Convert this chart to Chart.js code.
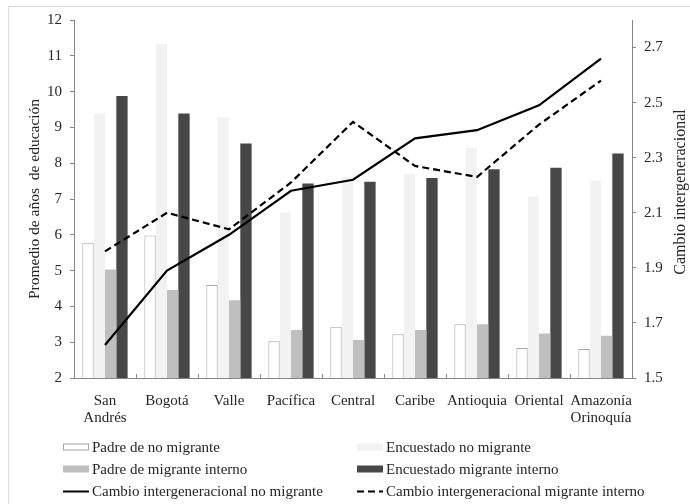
<!DOCTYPE html>
<html>
<head>
<meta charset="utf-8">
<script src="https://cdn.jsdelivr.net/npm/chart.js@4.4.0/dist/chart.umd.min.js"></script>
<style>
  html, body { margin: 0; padding: 0; background: #fff; overflow: hidden; }
  #frame { position: absolute; left: 8px; top: 6px; width: 720px; height: 540px; border: 1px solid #d9d9d9; }
  #wrap { position: absolute; left: 0; top: 0; width: 690px; height: 504px; }
</style>
</head>
<body>
<div id="frame"></div>
<div id="wrap"><canvas id="canvas" width="690" height="504"></canvas></div>
<script>
const categories = [['San', 'Andrés'], 'Bogotá', 'Valle', 'Pacífica', 'Central', 'Caribe', 'Antioquia', 'Oriental', ['Amazonía', 'Orinoquía']];

const padreNoMigrante      = [5.78, 5.98, 4.60, 3.03, 3.43, 3.22, 3.50, 2.84, 2.81];
const encuestadoNoMigrante = [9.39, 11.33, 9.29, 6.62, 7.62, 7.69, 8.43, 7.07, 7.52];
const padreMigrante        = [5.03, 4.46, 4.17, 3.34, 3.06, 3.34, 3.50, 3.24, 3.18];
const encuestadoMigrante   = [9.88, 9.39, 8.55, 7.43, 7.48, 7.59, 7.83, 7.87, 8.27];

const cambioNoMigrante = [1.62, 1.89, 2.02, 2.18, 2.22, 2.37, 2.40, 2.49, 2.66];
const cambioMigrante   = [1.96, 2.10, 2.04, 2.21, 2.43, 2.27, 2.23, 2.42, 2.58];

const leftTicks = [2, 3, 4, 5, 6, 7, 8, 9, 10, 11, 12];
const rightTicks = [1.5, 1.7, 1.9, 2.1, 2.3, 2.5, 2.7];

const FONT = "'Liberation Serif', 'Times New Roman', serif";
const AXIS = '#868686';
const TEXT = '#262626';

let ctx = document.getElementById('canvas').getContext('2d');

// legend in two columns, like the original
const legendBox = {
  id: 'legendBox',
  afterDraw(chart) {
    const c = chart.ctx;
    const cols = [63, 357];
    const rows = [447, 469, 491];
    c.save();
    c.font = '15px ' + FONT;
    c.textBaseline = 'middle';
    c.textAlign = 'left';
    chart.data.datasets.forEach((ds, i) => {
      const x = cols[i % 2];
      const y = rows[Math.floor(i / 2)];
      if (ds.type === 'line') {
        c.strokeStyle = ds.borderColor;
        c.lineWidth = 2;
        c.setLineDash(ds.borderDash || []);
        c.beginPath();
        c.moveTo(x, y + 0.5);
        c.lineTo(x + 26, y + 0.5);
        c.stroke();
        c.setLineDash([]);
      } else {
        c.fillStyle = ds.backgroundColor;
        c.fillRect(x, y - 3.5, 26, 7);
        if (ds.borderWidth) {
          c.strokeStyle = ds.borderColor;
          c.lineWidth = 1;
          c.strokeRect(x + 0.5, y - 3, 25, 6);
        }
      }
      c.fillStyle = TEXT;
      c.fillText(ds.label, x + 29, y + 1);
    });
    c.restore();
  }
};

// right title reads bottom to top, and small marks between categories
const extras = {
  id: 'extras',
  afterDraw(chart) {
    const c = chart.ctx;
    const xs = chart.scales.x;
    const area = chart.chartArea;
    c.save();
    c.strokeStyle = AXIS;
    c.lineWidth = 1;
    const n = categories.length;
    for (let i = 1; i < n; i++) {
      const px = Math.round(xs.left + i * xs.width / n) + 0.5;
      c.beginPath();
      c.moveTo(px, area.bottom);
      c.lineTo(px, area.bottom - 4);
      c.stroke();
    }
    c.translate(681, 192);
    c.rotate(-Math.PI / 2);
    c.font = '16px ' + FONT;
    c.fillStyle = TEXT;
    c.textAlign = 'center';
    c.textBaseline = 'middle';
    c.fillText('Cambio intergeneracional', 0, 0);
    c.restore();
  }
};

const data = {
  labels: categories,
  datasets: [{
    label: 'Padre de no migrante',
    data: padreNoMigrante,
    backgroundColor: '#ffffff',
    borderColor: '#a6a6a6',
    borderWidth: 1,
    order: 1
  }, {
    label: 'Encuestado no migrante',
    data: encuestadoNoMigrante,
    backgroundColor: '#f2f2f2',
    borderWidth: 0,
    order: 1
  }, {
    label: 'Padre de migrante interno',
    data: padreMigrante,
    backgroundColor: '#bfbfbf',
    borderWidth: 0,
    order: 1
  }, {
    label: 'Encuestado migrante interno',
    data: encuestadoMigrante,
    backgroundColor: '#474747',
    borderWidth: 0,
    order: 1
  }, {
    type: 'line',
    label: 'Cambio intergeneracional no migrante',
    data: cambioNoMigrante,
    yAxisID: 'y1',
    borderColor: '#000000',
    borderWidth: 2.2,
    pointRadius: 0,
    tension: 0,
    fill: false,
    order: 0
  }, {
    type: 'line',
    label: 'Cambio intergeneracional migrante interno',
    data: cambioMigrante,
    yAxisID: 'y1',
    borderColor: '#000000',
    borderWidth: 2.2,
    borderDash: [7, 4],
    pointRadius: 0,
    tension: 0,
    fill: false,
    order: 0
  }]
};

const options = {
  responsive: false,
  animation: false,
  layout: { padding: { top: 20, bottom: 64, left: 0, right: 0 } },
  categoryPercentage: 0.73,
  barPercentage: 1,
  plugins: {
    legend: { display: false },
    tooltip: { enabled: false }
  },
  scales: {
    x: {
      grid: { display: false },
      border: { display: true, color: AXIS },
      ticks: { color: TEXT, font: { family: FONT, size: 15, lineHeight: 1.15 }, padding: 6, maxRotation: 0, autoSkip: false },
      afterFit: s => { s.height = 62; }
    },
    y: {
      position: 'left',
      min: 2,
      max: 12,
      afterBuildTicks: s => { s.ticks = leftTicks.map(v => ({ value: v })); },
      grid: { drawOnChartArea: false, drawTicks: true, tickLength: 4, color: AXIS },
      border: { color: AXIS },
      ticks: { color: TEXT, font: { family: FONT, size: 15 }, padding: 8 },
      title: {
        display: true,
        text: 'Promedio de años  de educación',
        color: TEXT,
        font: { family: FONT, size: 15.5 },
        padding: { top: 26, bottom: 0 }
      },
      afterFit: s => { s.width = 74; }
    },
    y1: {
      position: 'right',
      min: 1.5,
      max: 2.8,
      afterBuildTicks: s => { s.ticks = rightTicks.map(v => ({ value: v })); },
      grid: { drawOnChartArea: false, drawTicks: true, tickLength: 4, color: AXIS },
      border: { color: AXIS },
      ticks: { color: TEXT, font: { family: FONT, size: 15 }, padding: 8, callback: v => v.toFixed(1) },
      afterFit: s => { s.width = 58; }
    }
  }
};

function init() {
  let chart = new Chart(ctx, {
    type: 'bar',
    data: data,
    options: options,
    plugins: [legendBox, extras]
  });
}

init();
</script>
</body>
</html>
